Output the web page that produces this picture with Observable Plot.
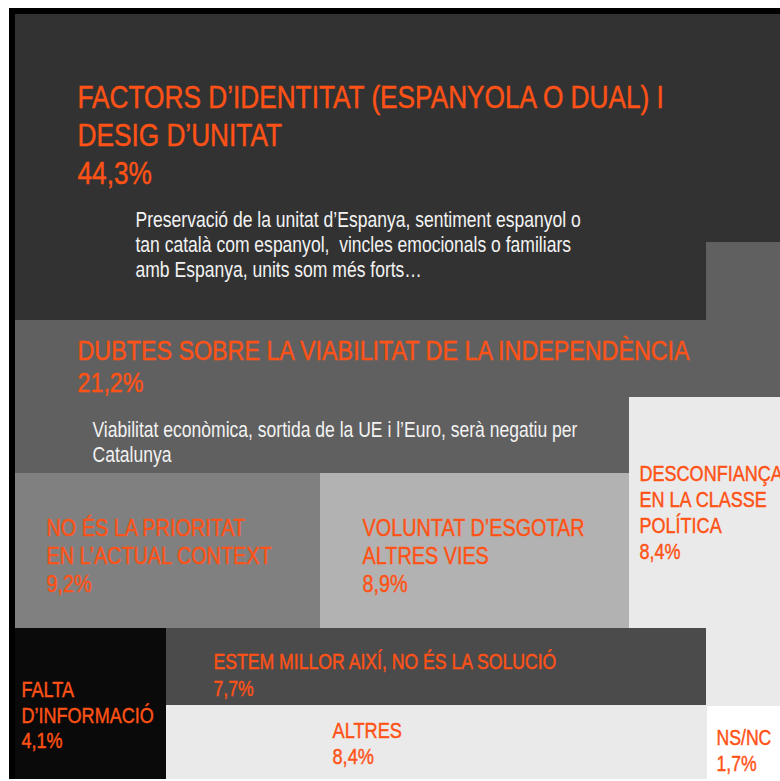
<!DOCTYPE html>
<html><head><meta charset="utf-8">
<script src="https://cdn.jsdelivr.net/npm/d3@7"></script>
<script src="https://cdn.jsdelivr.net/npm/@observablehq/plot@0.6"></script>
<style>html,body{margin:0;padding:0;background:#fff;} svg{display:block}</style>
</head><body><div id="chart"></div>
<script>
// ---- data ----
const categories = [
  "FACTORS D’IDENTITAT (ESPANYOLA O DUAL) I\nDESIG D’UNITAT",
  "DUBTES SOBRE LA VIABILITAT DE LA INDEPENDÈNCIA",
  "NO ÉS LA PRIORITAT\nEN L’ACTUAL CONTEXT",
  "VOLUNTAT D’ESGOTAR\nALTRES VIES",
  "DESCONFIANÇA\nEN LA CLASSE\nPOLÍTICA",
  "ESTEM MILLOR AIXÍ, NO ÉS LA SOLUCIÓ",
  "FALTA\nD’INFORMACIÓ",
  "ALTRES",
  "NS/NC"
];
const values = [44.3, 21.2, 9.2, 8.9, 8.4, 7.7, 4.1, 8.4, 1.7];
const descriptions = [
  "Preservació de la unitat d’Espanya, sentiment espanyol o\ntan català com espanyol,  vincles emocionals o familiars\namb Espanya, units som més forts…",
  "Viabilitat econòmica, sortida de la UE i l’Euro, serà negatiu per\nCatalunya",
  "", "", "", "", "", "", ""
];

// ---- layout & styles (kept apart from the data) ----
const tileColors = ["#323232", "#606060", "#808080", "#b2b2b2", "#eaeaea", "#4b4b4b", "#0a0a0a", "#eaeaea", "#ffffff"];
// tile pieces: [category index, x1, x2, y1, y2]
const tilePieces = [
  [0, 15, 780, 14, 242], [0, 15, 706, 242, 320],
  [1, 706, 780, 242, 320], [1, 15, 780, 320, 397], [1, 15, 629, 397, 473],
  [2, 15, 320, 473, 628],
  [3, 320, 629, 473, 628],
  [4, 629, 780, 397, 628], [4, 706, 780, 628, 706],
  [6, 15, 166, 628, 779],
  [5, 166, 706, 628, 705],
  [7, 166, 707, 705, 779],
  [8, 707, 780, 706, 779]
];
// label anchors: [x, last baseline, font size, line height]
const labelPos = [
  [77, 183.5, 32, 1.19], [77, 391.7, 28.4, 1.14], [46, 591.7, 24.2, 1.17], [362, 591.7, 24.2, 1.17],
  [639, 558.3, 22, 1.18], [213, 695, 21.5, 1.24], [21, 747.3, 22, 1.15], [332, 763.3, 22.2, 1.18], [716, 770, 21.5, 1.2]
];
const descPos = [[135, 276, 21.4, 1.15], [92, 461.7, 21.4, 1.17]];
const frame = [{x1: 9, x2: 780, y1: 8, y2: 779}];

const orange = "#ff5216";
// Arial Narrow look: use the narrow face if installed, else squeeze Liberation Sans
function hasFont(name) {
  const c = document.createElement("canvas").getContext("2d");
  const s = "ABCDEFGHIJKLMNOPQRSTUVWXYZ abcdefghij";
  c.font = "40px monospace"; const a = c.measureText(s).width;
  c.font = `40px '${name}', monospace`; const b = c.measureText(s).width;
  return a !== b;
}
const narrowOK = hasFont("Liberation Sans Narrow");
const font = narrowOK ? "'Liberation Sans Narrow', sans-serif" : "'Liberation Sans', Arial, sans-serif";
const squeeze = narrowOK ? 1 : 0.82;
const fmt = v => v.toFixed(1).replace(".", ",") + "%";

const pieces = tilePieces.map(([i, x1, x2, y1, y2]) => ({cat: categories[i], x1, x2, y1, y2, fill: tileColors[i]}));

const marks = [
  Plot.rect(frame, {x1: "x1", x2: "x2", y1: "y1", y2: "y2", fill: "#000"}),
  Plot.rect(pieces, {x1: "x1", x2: "x2", y1: "y1", y2: "y2", fill: "fill", shapeRendering: "crispEdges"})
];
categories.forEach((c, i) => {
  const [x, y, fs, lh] = labelPos[i];
  marks.push(Plot.text([{x, y, t: c + "\n" + fmt(values[i])}], {
    x: "x", y: "y", text: "t", fill: orange, stroke: orange, strokeWidth: 0.45,
    fontSize: fs, lineHeight: lh,
    lineAnchor: "bottom", textAnchor: "start", fontFamily: font
  }));
});
descPos.forEach(([x, y, fs, lh], i) => {
  marks.push(Plot.text([{x, y, t: descriptions[i]}], {
    x: "x", y: "y", text: "t", fill: "#f2f2f2", fontSize: fs, lineHeight: lh,
    lineAnchor: "bottom", textAnchor: "start", fontFamily: font
  }));
});

const chart = Plot.plot({
  width: 780, height: 781, margin: 0,
  x: {domain: [0, 780], range: [0, 780], axis: null},
  y: {domain: [0, 781], range: [0, 781], axis: null},
  color: {type: "identity"},
  style: {background: "#fff", overflow: "hidden"},
  marks
});
if (squeeze !== 1) {
  d3.select(chart).selectAll("text").each(function () {
    const a = +(this.getAttribute("x") || 0);
    const t = this.getAttribute("transform") || "";
    this.setAttribute("transform", `${t} translate(${a},0) scale(${squeeze},1) translate(${-a},0)`);
  });
}
document.getElementById("chart").appendChild(chart);
</script>
</body></html>
